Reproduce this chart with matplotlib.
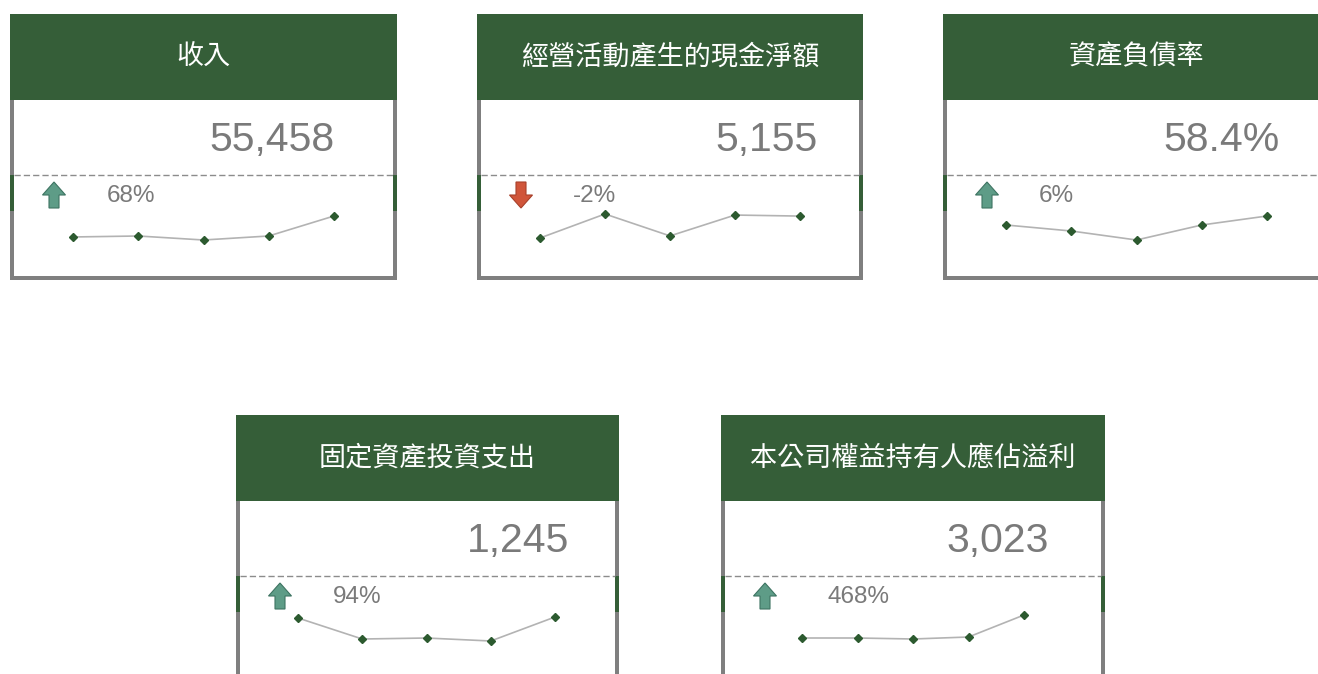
import matplotlib
matplotlib.use("Agg")
import matplotlib.pyplot as plt
from matplotlib.patches import Rectangle, Polygon

# ---------------- data ----------------
titles = ["收入", "經營活動產生的現金淨額", "資產負債率", "固定資產投資支出", "本公司權益持有人應佔溢利"]
main_values = ["55,458", "5,155", "58.4%", "1,245", "3,023"]
changes = ["68%", "-2%", "6%", "94%", "468%"]
directions = ["up", "down", "up", "up", "up"]
spark_revenue = [31900, 33000, 28500, 33010, 55458]
spark_cashflow = [2950, 5365, 3160, 5260, 5155]
spark_debt_ratio = [55.1, 52.9, 49.6, 55.1, 58.4]
spark_capex = [1220, 692, 717, 642, 1245]
spark_profit = [419, 419, 306, 532, 3023]
sparks = [spark_revenue, spark_cashflow, spark_debt_ratio, spark_capex, spark_profit]

# ---------------- layout (pixels) ----------------
W, H = 1318, 674
card_left = [10, 477, 943, 236, 721]
card_top = [14, 14, 14, 415, 415]
card_w = [387, 386, 387, 383, 384]
num_right = [335, 818, 1280, 569, 1049]
pct_left = [107, 573, 1039, 333, 828]
spark_x0 = [73, 540, 1006, 298, 802]
spark_x1 = [334, 800, 1267, 555, 1024]
spark_top_off = [202, 200, 202, 202, 200]

GREEN = "#355e38"
GRAY = "#7f7f7f"
TXT = "#7a7a7a"
UP_FILL, UP_EDGE = "#5e9c87", "#3e7462"
DN_FILL, DN_EDGE = "#d0553a", "#a8402a"

fig = plt.figure(figsize=(W / 100, H / 100), dpi=100)
ax = fig.add_axes([0, 0, 1, 1])
ax.set_xlim(0, W)
ax.set_ylim(H, 0)
ax.axis("off")

for i in range(5):
    L, T, Wc = card_left[i], card_top[i], card_w[i]
    R = L + Wc
    # header
    ax.add_patch(Rectangle((L, T), Wc, 86, facecolor=GREEN, edgecolor="none"))
    ax.text(L + Wc / 2, T + 43, titles[i], color="white", fontsize=19.5,
            family=["Noto Sans CJK TC", "DejaVu Sans"], ha="center", va="center")
    # gray borders
    ax.add_patch(Rectangle((L, T + 86), 4, 180, facecolor=GRAY, edgecolor="none"))
    ax.add_patch(Rectangle((R - 4, T + 86), 4, 180, facecolor=GRAY, edgecolor="none"))
    ax.add_patch(Rectangle((L, T + 262), Wc, 4, facecolor=GRAY, edgecolor="none"))
    # green side accents
    ax.add_patch(Rectangle((L, T + 161), 4, 36, facecolor=GREEN, edgecolor="none"))
    ax.add_patch(Rectangle((R - 4, T + 161), 4, 36, facecolor=GREEN, edgecolor="none"))
    # dashed separator
    ax.plot([L + 4, R - 4], [T + 161, T + 161], color="#8c8c8c", lw=1.0,
            linestyle=(0, (4.5, 2.2)))
    # big number
    ax.text(num_right[i], T + 137, main_values[i], color=TXT, fontsize=29.5,
            family=["Liberation Sans", "DejaVu Sans"], ha="right", va="baseline")
    # change percent
    ax.text(pct_left[i], T + 188, changes[i], color=TXT, fontsize=17.5,
            family=["Liberation Sans", "DejaVu Sans"], ha="left", va="baseline")
    # arrow
    ax_c = L + 44
    top = T + 168
    bot = T + 194
    hw, sw = 11.5, 5
    if directions[i] == "up":
        mid = T + 181
        pts = [(ax_c, top), (ax_c + hw, mid), (ax_c + sw, mid), (ax_c + sw, bot),
               (ax_c - sw, bot), (ax_c - sw, mid), (ax_c - hw, mid)]
        fc, ec = UP_FILL, UP_EDGE
    else:
        mid = T + 181
        pts = [(ax_c, bot), (ax_c + hw, mid), (ax_c + sw, mid), (ax_c + sw, top),
               (ax_c - sw, top), (ax_c - sw, mid), (ax_c - hw, mid)]
        fc, ec = DN_FILL, DN_EDGE
    ax.add_patch(Polygon(pts, closed=True, facecolor=fc, edgecolor=ec, lw=0.8))

    # sparkline axes
    sy_top = T + spark_top_off[i]
    sy_bot = sy_top + 24
    x0, x1 = spark_x0[i], spark_x1[i]
    sax = fig.add_axes([x0 / W, 1 - sy_bot / H, (x1 - x0) / W, (sy_bot - sy_top) / H])
    vals = sparks[i]
    xs = list(range(len(vals)))
    sax.plot(xs, vals, color="#b3b3b3", lw=1.2, clip_on=False, zorder=1)
    sax.plot(xs, vals, linestyle="none", marker="D", markersize=3.6,
             color="#2c5a2f", clip_on=False, zorder=2)
    sax.set_xlim(0, len(vals) - 1)
    sax.set_ylim(min(vals), max(vals))
    sax.axis("off")
    sax.patch.set_alpha(0)

fig.savefig("out.png", dpi=100)
